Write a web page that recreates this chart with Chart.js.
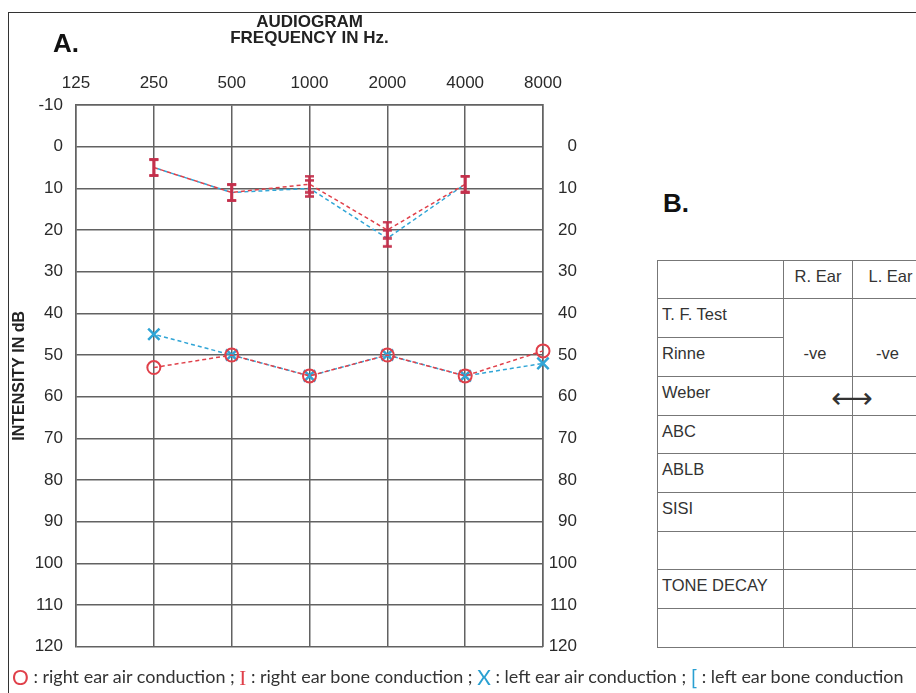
<!DOCTYPE html>
<html>
<head>
<meta charset="utf-8">
<script src="https://cdn.jsdelivr.net/npm/chart.js@4.4.1/dist/chart.umd.min.js"></script>
<style>
  html, body { margin: 0; padding: 0; background: #fff; }
  body { width: 916px; height: 693px; overflow: hidden; position: relative; font-family: "Liberation Sans", Arial, sans-serif; }
  #frame { position: absolute; left: 8px; top: 12px; width: 920px; height: 700px; border-left: 1.5px solid #333; border-top: 1.5px solid #333; }
  #audiogram { position: absolute; left: 0; top: 0; }
  .panel { position: absolute; font-weight: bold; font-size: 26px; color: #111; line-height: 1; }
  #tests-wrap { position: absolute; left: 657px; top: 260px; }
  #tests { border-collapse: collapse; table-layout: fixed; width: 271px; font-size: 16.5px; color: #333; }
  #tests td, #tests th { border: 1.5px solid #777; height: 31.7px; padding: 6px 4px 0 4px; vertical-align: top; text-align: left; font-weight: normal; overflow: hidden; white-space: nowrap; }
  #tests th { vertical-align: middle; text-align: center; padding: 0 0 6px 0; height: 31.3px; }
  #tests td.res { text-align: center; padding-top: 45px; padding-left: 0; padding-right: 6px; }
  #weber-arrow { position: absolute; left: 195px; top: 124px; transform: translateX(-50%); font-family: "DejaVu Sans", sans-serif; font-size: 29px; color: #333; line-height: 1; }
  #key { position: absolute; left: 12px; top: 664px; white-space: nowrap; font-family: Lato, "Open Sans", sans-serif; font-size: 15px; color: #333; }
  #key .g { font-size: 21px; vertical-align: -2px; }
  #key .red { color: #e0404a; }
  #key .blue { color: #2aa0d2; }
  #key .serif { font-family: "Liberation Serif", serif; }
</style>
</head>
<body>
<div id="frame"></div>
<canvas id="audiogram" width="577" height="670"></canvas>
<div class="panel" style="left:53px; top:30px;">A.</div>
<div class="panel" style="left:663px; top:190px;">B.</div>

<div id="tests-wrap">
  <table id="tests">
    <colgroup><col style="width:126px"><col style="width:69px"><col style="width:76px"></colgroup>
    <tr><td style="height:31.3px"></td><th>R. Ear</th><th>L. Ear</th></tr>
    <tr><td>T. F. Test</td><td class="res" rowspan="2">-ve</td><td class="res" rowspan="2">-ve</td></tr>
    <tr><td>Rinne</td></tr>
    <tr><td>Weber</td><td></td><td></td></tr>
    <tr><td>ABC</td><td></td><td></td></tr>
    <tr><td>ABLB</td><td></td><td></td></tr>
    <tr><td>SISI</td><td></td><td></td></tr>
    <tr><td></td><td></td><td></td></tr>
    <tr><td>TONE DECAY</td><td></td><td></td></tr>
    <tr><td></td><td></td><td></td></tr>
  </table>
  <div id="weber-arrow">⟷</div>
</div>

<div id="key"><span class="g red">O</span> : right ear air conduction ; <span class="g red serif">I</span> : right ear bone conduction ; <span class="g blue">X</span> : left ear air conduction ; <span class="g blue">[</span> : left ear bone conduction</div>

<script>
// frequencies in Hz (x axis, shown on top)
const frequencies = ['125', '250', '500', '1000', '2000', '4000', '8000'];
// hearing level in dB, one value per frequency
const rightAir = [null, 53, 50, 55, 50, 55, 49];
const rightBone = [null, 5, 11, 9, 20, 9, null];
const leftAir = [null, 45, 50, 55, 50, 55, 52];
const leftBone = [null, 5, 11, 10, 22, 9, null];
const dbMin = -10;
const dbMax = 120;
const dbStep = 10;

var RED = 'rgb(224, 64, 74)';
var BONE = 'rgb(196, 48, 76)';
var BLUE = 'rgb(48, 165, 214)';
var GRID = '#626262';

// bone conduction marker (I-beam), drawn once and reused as a point style
function makeGlyph(color) {
    var c = document.createElement('canvas');
    c.width = 11;
    c.height = 19;
    var g = c.getContext('2d');
    g.strokeStyle = color;
    g.lineWidth = 2.5;
    g.beginPath();
    g.moveTo(5.5, 1); g.lineTo(5.5, 18);
    g.moveTo(1, 1.5); g.lineTo(10, 1.5);
    g.moveTo(1, 17.5); g.lineTo(10, 17.5);
    g.stroke();
    return c;
}

var tickFont = { family: '"Liberation Sans", Arial, sans-serif', size: 17 };
var boldFont = { family: '"Liberation Sans", Arial, sans-serif', size: 17, weight: 'bold', lineHeight: 0.95 };

new Chart(document.getElementById('audiogram'), {
    type: 'line',
    data: {
        labels: frequencies,
        datasets: [{
            label: 'right ear air conduction',
            data: rightAir,
            borderColor: RED,
            borderWidth: 1.5,
            borderDash: [4, 3],
            pointStyle: 'circle',
            pointRadius: 6.5,
            pointBorderWidth: 2,
            pointBorderColor: RED,
            pointBackgroundColor: 'rgba(0,0,0,0)'
        }, {
            label: 'right ear bone conduction',
            data: rightBone,
            borderColor: RED,
            borderWidth: 1.5,
            borderDash: [4, 3],
            pointStyle: makeGlyph(BONE),
            pointRadius: 9
        }, {
            label: 'left ear air conduction',
            data: leftAir,
            borderColor: BLUE,
            borderWidth: 1.5,
            borderDash: [4, 3],
            borderDashOffset: 3.5,
            pointStyle: 'crossRot',
            pointRadius: 8,
            pointBorderWidth: 2.5,
            pointBorderColor: BLUE
        }, {
            label: 'left ear bone conduction',
            data: leftBone,
            borderColor: BLUE,
            borderWidth: 1.5,
            borderDash: [4, 3],
            borderDashOffset: 3.5,
            pointStyle: makeGlyph(BONE),
            pointRadius: 9
        }]
    },
    options: {
        responsive: false,
        animation: false,
        devicePixelRatio: 1,
        layout: { padding: { left: 0, right: 0, top: 0, bottom: 5 } },
        elements: { line: { tension: 0 } },
        plugins: {
            legend: { display: false },
            tooltip: { enabled: false },
            title: {
                display: true,
                fullSize: false,
                text: ['AUDIOGRAM', 'FREQUENCY IN Hz.'],
                color: '#222',
                font: boldFont,
                padding: { top: 14, bottom: 0 }
            }
        },
        scales: {
            x: {
                type: 'category',
                position: 'top',
                offset: false,
                grid: { color: GRID, lineWidth: 1.5, drawTicks: false },
                border: { color: GRID, width: 1.5 },
                ticks: { color: '#2a2a2a', font: tickFont, padding: 11, maxRotation: 0, autoSkip: false },
                afterFit: function (s) { s.height = 58.7; }
            },
            y: {
                type: 'linear',
                position: 'left',
                reverse: true,
                min: dbMin,
                max: dbMax,
                grid: { color: GRID, lineWidth: 1.5, drawTicks: false },
                border: { color: GRID, width: 1.5 },
                ticks: { stepSize: dbStep, color: '#2a2a2a', font: tickFont, padding: 13 },
                title: {
                    display: true,
                    text: 'INTENSITY IN dB',
                    color: '#222',
                    font: { family: '"Liberation Sans", Arial, sans-serif', size: 16, weight: 'bold' },
                    padding: { top: 10, bottom: 0 }
                },
                afterFit: function (s) { s.width = 76; }
            },
            y2: {
                type: 'linear',
                position: 'right',
                reverse: true,
                min: dbMin,
                max: dbMax,
                grid: { display: false, drawTicks: false },
                border: { color: GRID, width: 1.5 },
                ticks: {
                    stepSize: dbStep, color: '#2a2a2a', font: tickFont, padding: 8, crossAlign: 'far',
                    callback: function (v) { return v < 0 ? '' : v; }
                },
                afterFit: function (s) { s.width = 34; }
            }
        }
    }
});

// stretch the key line to the width of the figure
var key = document.getElementById('key');
var fs = 15 * 900 / key.offsetWidth;
key.style.fontSize = fs.toFixed(2) + 'px';
</script>
</body>
</html>
